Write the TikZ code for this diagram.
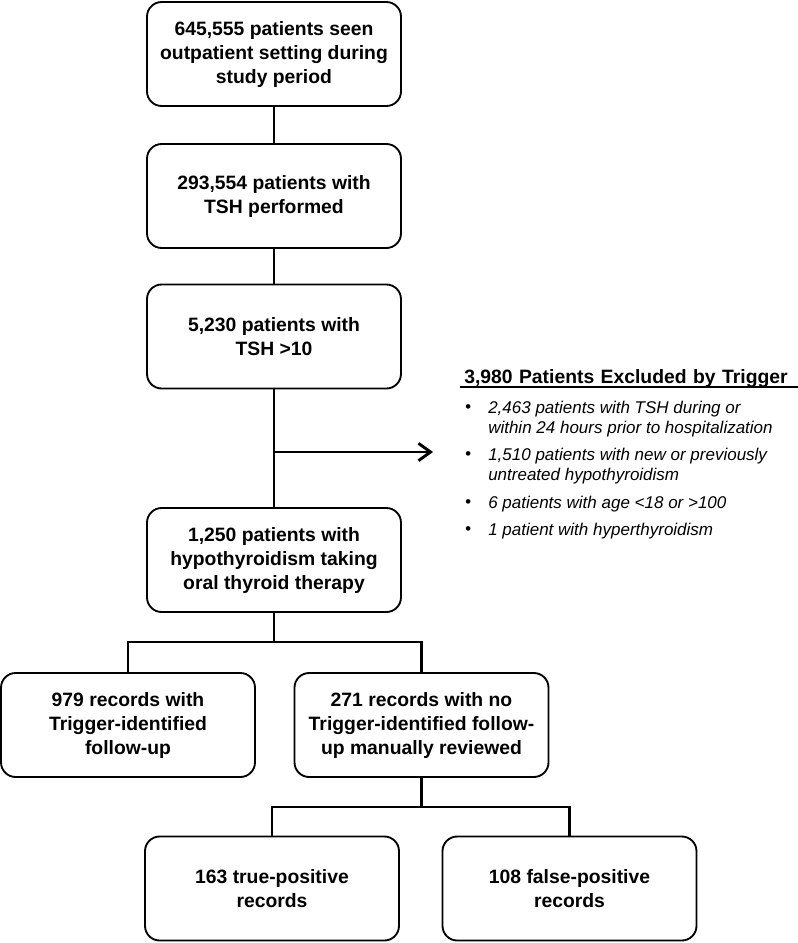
\documentclass[tikz,border=0pt]{standalone}
\usepackage{fontspec}
\setmainfont{Liberation Sans}
\usetikzlibrary{arrows.meta}

\newcommand{\boxfont}{\fontsize{14.5}{18}\selectfont\bfseries}
\newcommand{\notefont}{\fontsize{12.75}{15}\selectfont\itshape}

\begin{document}
\begin{tikzpicture}[x=0.75pt,y=-0.75pt,
    stage/.style={draw, rounded corners=11pt, line width=1.4pt, minimum width=190.5pt,
        minimum height=78pt, align=center, inner sep=0pt, font=\boxfont},
    link/.style={line width=2.2pt},
    note/.style={anchor=west, align=left, inner sep=0pt, font=\notefont},
    dot/.style={inner sep=0pt, font=\notefont}]
    \useasboundingbox (0,0) rectangle (797,943);
    \node[stage] (seen) at (274,54) {645,555 patients seen\\outpatient setting during\\study period};
    \node[stage] (tsh) at (274,196) {293,554 patients with\\TSH performed};
    \node[stage] (high) at (274,336.5) {5,230 patients with\\TSH >10};
    \node[stage] (oral) at (274,560) {1,250 patients with\\hypothyroidism taking\\oral thyroid therapy};
    \node[stage] (found) at (128,725) {979 records with\\Trigger-identified\\follow-up};
    \node[stage] (review) at (421.5,725) {271 records with no\\Trigger-identified follow-\\up manually reviewed};
    \node[stage] (truepos) at (272,888.5) {163 true-positive\\records};
    \node[stage] (falsepos) at (569.5,888.5) {108 false-positive\\records};
    \coordinate (split) at (274,452);
    \coordinate (out) at (433,452);
    \coordinate (fork) at (274,642);
    \coordinate (subfork) at (421.5,807);
    \draw[link] (seen) -- (tsh);
    \draw[link] (tsh) -- (high);
    \draw[link] (high) -- (oral);
    \draw[link, -{Straight Barb[length=9pt,width=13pt]}] (split) -- (out);
    \draw[link] (oral) -- (fork);
    \draw[link] (found.north) |- (fork) -| (review.north);
    \draw[link] (review) -- (subfork);
    \draw[link] (truepos.north) |- (subfork) -| (falsepos.north);
    % excluded patients
    \node[anchor=base west, font=\boxfont, inner xsep=3pt, inner ysep=0pt, text width=250pt] (excl) at (460,383) {3,980 Patients Excluded by Trigger};
    \draw[line width=1.5pt] (excl.south west) -- (excl.south east);
    \node[dot] (b1) at (468,409) {•};
    \node[dot] (b2) at (468,456) {•};
    \node[dot] (b3) at (468,504) {•};
    \node[dot] (b4) at (468,531) {•};
    \node[note] (i1) at (488,419) {2,463 patients with TSH during or\\within 24 hours prior to hospitalization};
    \node[note] (i2) at (488,466.5) {1,510 patients with new or previously\\untreated hypothyroidism};
    \node[note] (i3) at (488,504) {6 patients with age <18 or >100};
    \node[note] (i4) at (488,531) {1 patient with hyperthyroidism};
\end{tikzpicture}
\end{document}
